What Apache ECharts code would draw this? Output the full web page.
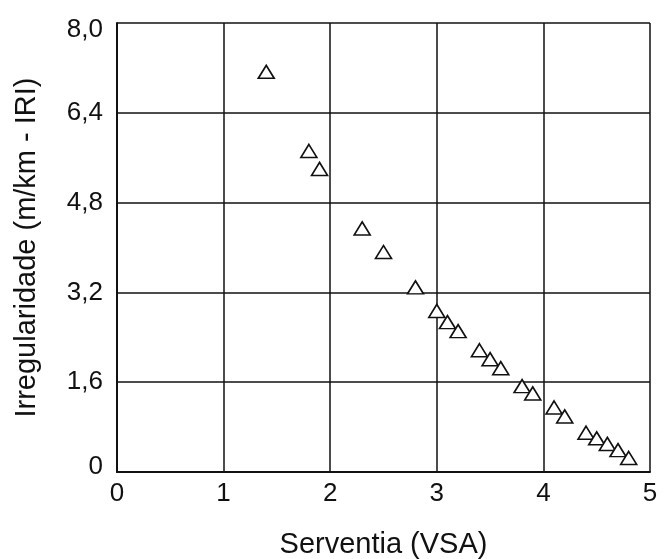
<!DOCTYPE html>
<html>
<head>
<meta charset="utf-8">
<script src="https://cdn.jsdelivr.net/npm/echarts@6/dist/echarts.min.js"></script>
<style>
html,body{margin:0;padding:0;background:#fff;}
#chart{width:665px;height:559px;}
</style>
</head>
<body>
<div id="chart"></div>
<script>
// Data
var serventia = [1.4, 1.8, 1.9, 2.3, 2.5, 2.8, 3.0, 3.1, 3.2, 3.4, 3.5, 3.6, 3.8, 3.9, 4.1, 4.2, 4.4, 4.5, 4.6, 4.7, 4.8];
var irregularidade = [7.13, 5.72, 5.40, 4.34, 3.92, 3.29, 2.87, 2.67, 2.51, 2.17, 2.01, 1.85, 1.53, 1.40, 1.15, 0.99, 0.70, 0.60, 0.50, 0.39, 0.25];
var xTicks = [0, 1, 2, 3, 4, 5];
var yTicks = ['0', '1,6', '3,2', '4,8', '6,4', '8,0'];
var xName = 'Serventia (VSA)';
var yName = 'Irregularidade (m/km - IRI)';

var points = serventia.map(function (x, i) { return [x, irregularidade[i]]; });
var FONT = '"Liberation Sans", Arial, sans-serif';
var TXT = '#111';
var TICK = 26;
var NAME = 29;

var chart = echarts.init(document.getElementById('chart'), null, {renderer: 'canvas'});
chart.setOption({
  animation: false,
  backgroundColor: '#fff',
  grid: {left: 117, right: 15, top: 23, bottom: 87, containLabel: false, outerBoundsMode: 'none'},
  xAxis: {
    type: 'value', min: xTicks[0], max: xTicks[xTicks.length - 1], interval: 1,
    name: xName, nameLocation: 'middle', nameGap: 58,
    nameTextStyle: {fontFamily: FONT, fontSize: NAME, color: TXT},
    axisLine: {show: true, onZero: false, lineStyle: {color: '#111', width: 2}},
    axisTick: {show: false},
    axisLabel: {fontFamily: FONT, fontSize: TICK, color: TXT, margin: 9,
      formatter: function (v) { return String(v); }},
    splitLine: {show: true, lineStyle: {color: '#111', width: 1.5}}
  },
  yAxis: {
    type: 'value', min: 0, max: 8, interval: 1.6,
    name: yName, nameLocation: 'middle', nameGap: 76,
    nameTextStyle: {fontFamily: FONT, fontSize: NAME, color: TXT},
    axisLine: {show: true, onZero: false, lineStyle: {color: '#111', width: 2}},
    axisTick: {show: false},
    axisLabel: {fontFamily: FONT, fontSize: TICK, color: TXT, margin: 14,
      formatter: function (v) {
        var idx = Math.round(v / 1.6);
        var s = yTicks[idx];
        if (idx === yTicks.length - 1) return '{t|' + s + '}';
        if (idx === 0) return '{b|' + s + '}';
        return s;
      },
      rich: {
        t: {fontFamily: FONT, fontSize: TICK, color: TXT, padding: [14, 0, 0, 0]},
        b: {fontFamily: FONT, fontSize: TICK, color: TXT, padding: [0, 0, 10, 0]}
      }
    },
    splitLine: {show: true, lineStyle: {color: '#111', width: 1.5}}
  },
  series: [{
    type: 'scatter',
    data: points,
    symbol: 'triangle',
    symbolSize: [16, 13],
    itemStyle: {color: '#fff', borderColor: '#111', borderWidth: 1.6, opacity: 1}
  }]
});
</script>
</body>
</html>
